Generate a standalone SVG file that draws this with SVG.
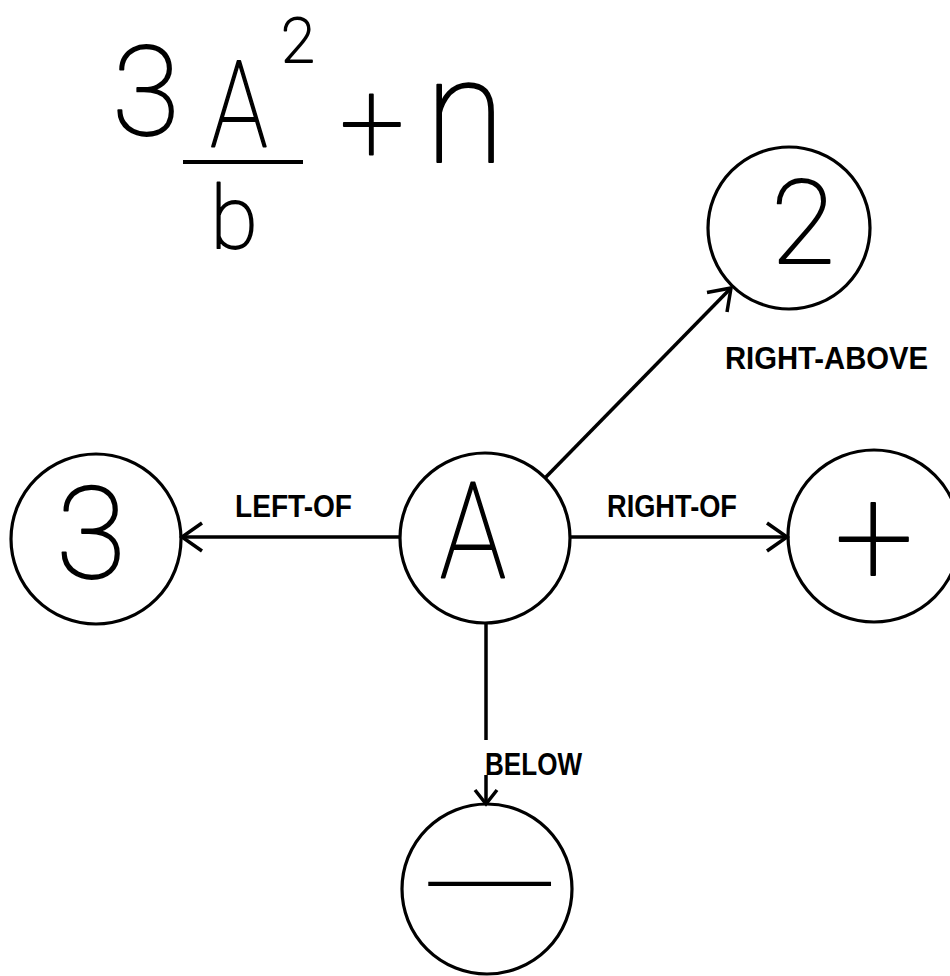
<svg xmlns="http://www.w3.org/2000/svg" width="950" height="976" viewBox="0 0 950 976">
<style>
.node{fill:none;stroke:#000;stroke-width:3.2}
.hand{font-family:Roboto,"Liberation Sans",sans-serif;font-weight:100;fill:#000;stroke:#000;stroke-width:1.8;stroke-linejoin:round;text-anchor:middle}
.lbl{font-family:"Liberation Sans","DejaVu Sans",sans-serif;font-weight:bold;font-size:31px;fill:#000}
.edge{fill:none;stroke:#000;stroke-width:3.5}
</style>
<defs>
<marker id="arr" markerUnits="userSpaceOnUse" viewBox="-24 -17 28 34" refX="0" refY="0" markerWidth="28" markerHeight="34" orient="auto">
<path d="M-20,-14 L0,0 L-20,14" fill="none" stroke="#000" stroke-width="3.5"/>
</marker>
<marker id="arrS" markerUnits="userSpaceOnUse" viewBox="-18 -14 22 28" refX="0" refY="0" markerWidth="22" markerHeight="28" orient="auto">
<path d="M-14,-11 L0,0 L-14,11" fill="none" stroke="#000" stroke-width="3.5"/>
</marker>
</defs>
<rect width="950" height="976" fill="#fff"/>
<g id="expression">
<text class="hand" x="146" y="135" font-size="124">3</text>
<text class="hand" transform="translate(239,147) scale(0.8,1)" font-size="120">A</text>
<line x1="183" y1="162" x2="303" y2="162" stroke="#000" stroke-width="4"/>
<text class="hand" x="234" y="248" font-size="87">b</text>
<text class="hand" x="298" y="62" font-size="62">2</text>
<text class="hand" x="372" y="163" font-size="115">+</text>
<text class="hand" x="465" y="162" font-size="146">n</text>
</g>
<g id="connectors">
<g id="e-left"><line class="edge" x1="400" y1="537" x2="182" y2="537" marker-end="url(#arr)"/></g>
<g id="e-right"><line class="edge" x1="570" y1="537" x2="787" y2="537" marker-end="url(#arr)"/></g>
<g id="e-rightabove"><line class="edge" x1="545" y1="478" x2="731" y2="288" marker-end="url(#arr)"/></g>
<g id="e-below"><line class="edge" x1="486" y1="623" x2="486" y2="740"/><line class="edge" x1="486" y1="775" x2="486" y2="804" marker-end="url(#arrS)"/></g>
<text class="lbl" x="235" y="517" textLength="117" lengthAdjust="spacingAndGlyphs">LEFT-OF</text>
<text class="lbl" x="607" y="517" textLength="130" lengthAdjust="spacingAndGlyphs">RIGHT-OF</text>
<text class="lbl" x="725" y="369" textLength="203" lengthAdjust="spacingAndGlyphs">RIGHT-ABOVE</text>
<text class="lbl" x="485" y="775" textLength="97" lengthAdjust="spacingAndGlyphs">BELOW</text>
</g>
<g id="node-A"><circle class="node" cx="485" cy="538" r="85"/><text class="hand" transform="translate(473,577) scale(0.83,1)" font-size="134">A</text></g>
<g id="node-3"><circle class="node" cx="96" cy="539" r="85"/><text class="hand" x="91" y="578" font-size="128">3</text></g>
<g id="node-2"><circle class="node" cx="789" cy="228" r="81"/><text class="hand" x="803" y="263" font-size="117">2</text></g>
<g id="node-plus"><circle class="node" cx="874" cy="536" r="86"/><text class="hand" x="874" y="585" font-size="140">+</text></g>
<g id="node-minus"><circle class="node" cx="487" cy="889" r="85"/><text x="415" y="904" font-family="Roboto,'Liberation Sans',sans-serif" font-size="55" textLength="147" lengthAdjust="spacingAndGlyphs">—</text></g>
</svg>
